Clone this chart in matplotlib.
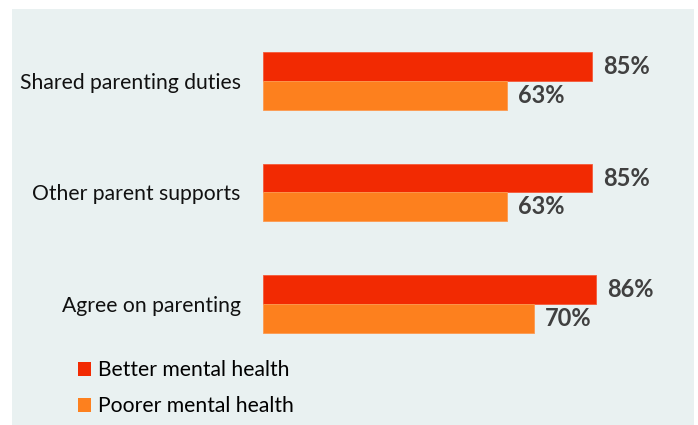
import matplotlib.pyplot as plt
from matplotlib.patches import Rectangle, Patch

categories = ['Agree on parenting', 'Other parent supports', 'Shared parenting duties']
better = [86, 85, 85]
poorer = [70, 63, 63]
series_names = ['Better mental health', 'Poorer mental health']
red = '#f22a02'
orange = '#fd801e'
panel = '#e9f1f1'
label_col = '#404040'

plt.rcParams['font.family'] = ['Lato', 'DejaVu Sans']

fig = plt.figure(figsize=(6.98, 4.25), dpi=100)
fig.patch.set_facecolor('white')
fig.patches.append(Rectangle((12 / 698, 0), (694 - 12) / 698, 1 - 9 / 425,
                             transform=fig.transFigure, facecolor=panel,
                             edgecolor='none', zorder=-1))

ax = fig.add_axes([263 / 698, 0, (694 - 263) / 698, 1 - 9 / 425])
ax.set_facecolor('none')
ax.set_zorder(2)

h = 0.26
y = list(range(len(categories)))
yb = [v + h / 2 for v in y]
yp = [v - h / 2 for v in y]
ax.barh(yb, better, height=h, color=red, edgecolor='#f55a3a', linewidth=0.6)
ax.barh(yp, poorer, height=h, color=orange, edgecolor='#fd9a50', linewidth=0.6)

for yy, v in zip(yb, better):
    ax.annotate(f'{v}%', (v, yy), xytext=(8, 0), textcoords='offset points',
                va='center', ha='left', fontsize=17, fontweight='bold', color=label_col)
for yy, v in zip(yp, poorer):
    ax.annotate(f'{v}%', (v, yy), xytext=(8, 0), textcoords='offset points',
                va='center', ha='left', fontsize=17, fontweight='bold', color=label_col)

ax.set_xlim(0, (694 - 263) / 3.87)
ax.set_ylim(-1.087, 2.647)
ax.set_yticks(y)
ax.set_yticklabels(categories, fontsize=15.2, color='#111111')
ax.tick_params(axis='y', length=0, pad=16)
ax.set_xticks([])
for s in ax.spines.values():
    s.set_visible(False)

handles = [Patch(facecolor=red), Patch(facecolor=orange)]
leg = fig.legend(handles, series_names, loc='upper left', bbox_to_anchor=(70 / 698, 1 - 352 / 425),
                 frameon=False, fontsize=15.2, handlelength=0.6, handleheight=0.6,
                 handletextpad=0.35, labelspacing=0.75, borderaxespad=0)
leg.set_zorder(3)

fig.savefig('out.png', dpi=100)
